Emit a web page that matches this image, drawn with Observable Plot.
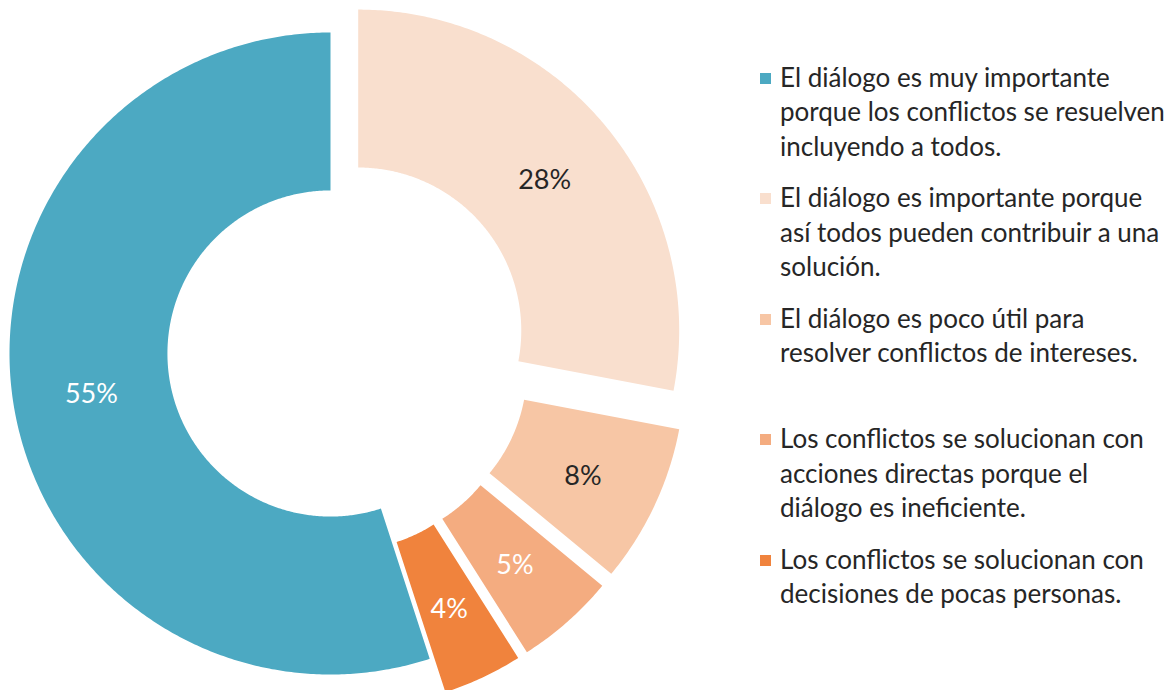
<!DOCTYPE html>
<html><head><meta charset="utf-8">
<script src="https://cdn.jsdelivr.net/npm/d3@7"></script>
<script src="https://cdn.jsdelivr.net/npm/@observablehq/plot@0.6"></script>
<style>
html,body{margin:0;padding:0;background:#fff;overflow:hidden;}
#wrap{position:relative;width:1175px;height:690px;overflow:hidden;font-family:Lato,"Open Sans",sans-serif;}
#chart{position:absolute;left:0;top:0;}
.entry{position:absolute;left:760px;white-space:pre;font-size:26px;line-height:34.5px;color:#262626;}
.sw{position:absolute;left:0;top:13px;width:11px;height:11px;}
.txt{position:absolute;left:20px;top:0;}
</style></head><body><div id="wrap"><div id="chart"></div></div>
<script>
// ---- data ----
const categories = [
  "El diálogo es muy importante\nporque los conflictos se resuelven\nincluyendo a todos.",
  "El diálogo es importante porque\nasí todos pueden contribuir a una\nsolución.",
  "El diálogo es poco útil para\nresolver conflictos de intereses.",
  "Los conflictos se solucionan con\nacciones directas porque el\ndiálogo es ineficiente.",
  "Los conflictos se solucionan con\ndecisiones de pocas personas."
];
const values = [55, 28, 8, 5, 4];
const colors = ["#4ca9c2", "#f9dfce", "#f7c6a5", "#f4ac80", "#f0833d"];

// ---- geometry (derived from the values) ----
const startDeg = 162;         // first slice angle
const innerR = 0.508;         // hole size relative to outer radius
const explode = [0, 0.112, 0.115, 0.115, 0.115];
const total = d3.sum(values);
const rad = Math.PI / 180;

const rows = [];
const labels = [];
let acc = startDeg;
values.forEach((v, i) => {
  const a0 = acc, a1 = acc + v / total * 360;
  acc = a1;
  const mid = (a0 + a1) / 2 * rad;
  const ox = explode[i] * Math.sin(mid), oy = explode[i] * Math.cos(mid);
  const n = Math.max(2, Math.ceil((a1 - a0) / 0.5));
  const pts = [];
  for (let k = 0; k <= n; k++) {
    const a = (a0 + (a1 - a0) * k / n) * rad;
    pts.push([ox + Math.sin(a), oy + Math.cos(a)]);
  }
  for (let k = n; k >= 0; k--) {
    const a = (a0 + (a1 - a0) * k / n) * rad;
    pts.push([ox + innerR * Math.sin(a), oy + innerR * Math.cos(a)]);
  }
  pts.forEach(([x, y]) => rows.push({slice: categories[i], x, y}));
  const lr = (1 + innerR) / 2;
  labels.push({i, text: v + "%", x: ox + lr * Math.sin(mid), y: oy + lr * Math.cos(mid)});
});

const W = 740, H = 690, CX = 330, CY = 353, RPX = 321;
const plot = Plot.plot({
  width: W, height: H,
  margin: 0,
  x: {domain: [-CX / RPX, (W - CX) / RPX], axis: null},
  y: {domain: [-(H - CY) / RPX, CY / RPX], axis: null},
  color: {domain: categories, range: colors},
  marks: [
    Plot.line(rows, {x: "x", y: "y", z: "slice", fill: "slice", stroke: "none"}),
    Plot.text(labels.filter(d => d.i === 1 || d.i === 2), {x: "x", y: "y", dy: 4, text: "text", fill: "#262626", fontSize: 27, fontFamily: "Lato"}),
    Plot.text(labels.filter(d => !(d.i === 1 || d.i === 2)), {x: "x", y: "y", dy: 3, text: "text", fill: "#ffffff", fontSize: 27, fontFamily: "Lato"})
  ]
});
document.getElementById("chart").appendChild(plot);

// ---- legend built from the plot's colour scale ----
const cs = plot.scale("color");
const wrap = document.getElementById("wrap");
categories.forEach((c, i) => {
  const e = document.createElement("div");
  e.className = "entry";
  e.style.top = (59.7 + i * 120.5) + "px";
  const sw = document.createElement("div");
  sw.className = "sw";
  sw.style.background = cs.range[cs.domain.indexOf(c)];
  const t = document.createElement("div");
  t.className = "txt";
  t.textContent = c;
  e.appendChild(sw); e.appendChild(t);
  wrap.appendChild(e);
});
</script></body></html>
